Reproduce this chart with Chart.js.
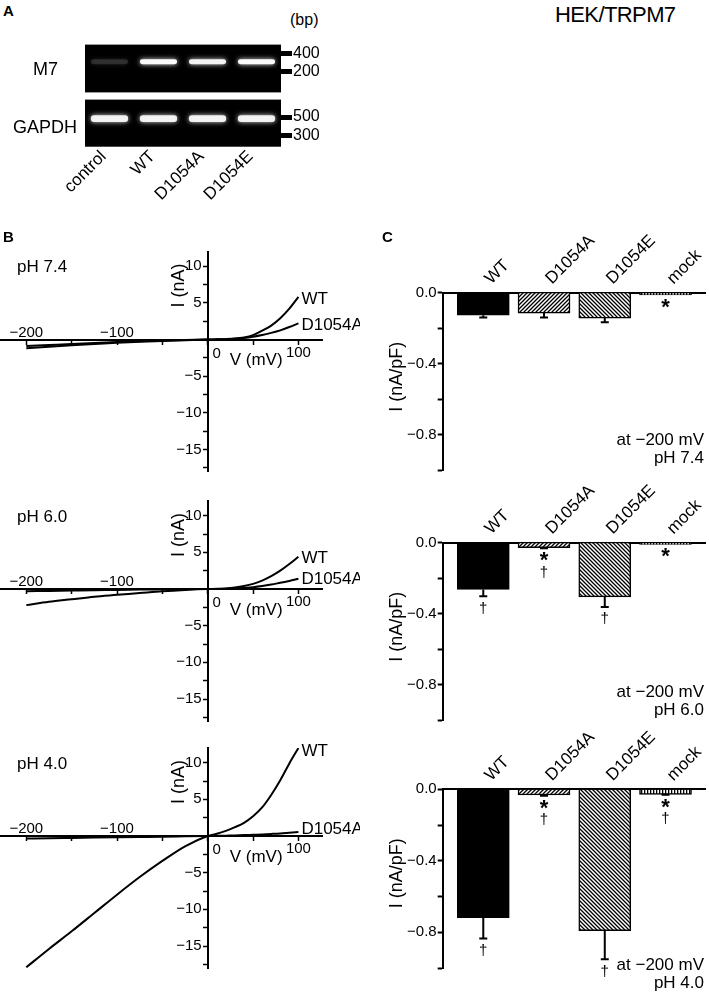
<!DOCTYPE html>
<html><head><meta charset="utf-8">
<script src="https://cdn.jsdelivr.net/npm/chart.js@4.4.1/dist/chart.umd.min.js"></script>
<style>
html,body{margin:0;padding:0;background:#fff;}
#fig{position:relative;width:709px;height:993px;overflow:hidden;background:#fff;font-family:"Liberation Sans",Arial,Helvetica,sans-serif;color:#000;}
canvas{position:absolute;}
.t{position:absolute;white-space:nowrap;}
</style></head><body><div id="fig">
<canvas id="gelM7" width="295" height="69" style="left:40px;top:34px"></canvas>
<canvas id="gelGAPDH" width="295" height="118" style="left:40px;top:89px"></canvas>
<canvas id="iv74" width="360" height="260" style="left:0px;top:225px"></canvas>
<canvas id="iv60" width="360" height="260" style="left:0px;top:475px"></canvas>
<canvas id="iv40" width="360" height="271" style="left:0px;top:722px"></canvas>
<canvas id="bar74" width="329" height="260" style="left:380px;top:220px"></canvas>
<canvas id="bar60" width="329" height="260" style="left:380px;top:470px"></canvas>
<canvas id="bar40" width="329" height="276" style="left:380px;top:717px"></canvas>
</div>
<script>
const FF = '"Liberation Sans", Arial, Helvetica, sans-serif';
Chart.defaults.font.family = FF;
Chart.defaults.color = '#000';
Chart.defaults.animation = false;

// ---------------- data ----------------
// Panel A: RT-PCR gel
const lanes = ['control', 'WT', 'D1054A', 'D1054E'];
const m7BandBp = [290, 290, 290, 290];
const m7BandIntensity = [0.13, 1, 0.95, 1];
const gapdhBandBp = [480, 480, 480, 480];
const gapdhBandIntensity = [0.93, 0.93, 0.93, 0.93];
const m7LadderBp = [400, 200];
const gapdhLadderBp = [500, 300];

// Panel B: I-V curves (V in mV, I in nA)
const voltages = [-200, -175, -150, -125, -100, -75, -50, -25, 0, 10, 20, 30, 40, 50, 60, 70, 80, 90, 100];
const wtPH74    = [-1.2, -1.0, -0.8, -0.62, -0.45, -0.32, -0.2, -0.09, 0, 0.02, 0.05, 0.12, 0.28, 0.6, 1.2, 1.9, 2.9, 4.2, 5.8];
const mutPH74   = [-0.9, -0.75, -0.6, -0.47, -0.35, -0.25, -0.15, -0.07, 0, 0.02, 0.05, 0.1, 0.2, 0.37, 0.6, 0.9, 1.25, 1.7, 2.2];
const wtPH60    = [-2.2, -1.75, -1.4, -1.05, -0.8, -0.55, -0.3, -0.12, 0, 0.02, 0.08, 0.2, 0.4, 0.7, 1.15, 1.75, 2.5, 3.4, 4.4];
const mutPH60   = [-0.3, -0.26, -0.22, -0.18, -0.12, -0.08, -0.05, -0.02, 0, 0.01, 0.04, 0.09, 0.16, 0.25, 0.4, 0.6, 0.85, 1.1, 1.4];
const wtPH40    = [-17.9, -15.4, -13.0, -10.5, -8.0, -5.6, -3.4, -1.4, 0, 0.3, 0.7, 1.2, 1.8, 2.7, 3.9, 5.6, 7.6, 9.9, 12.0];
const mutPH40   = [-0.35, -0.3, -0.26, -0.22, -0.18, -0.14, -0.1, -0.05, 0, 0.02, 0.05, 0.08, 0.12, 0.17, 0.22, 0.28, 0.35, 0.45, 0.55];
const ivXTickLabels = [-200, -100, 0, 100];
const ivXTicks = [-200, -150, -100, -50, 0, 50, 100];
const ivYTickLabels = [10, 5, -5, -10, -15];
const ivYTicks = [10, 7.5, 5, 2.5, -2.5, -5, -7.5, -10, -12.5, -15, -17.5];

// Panel C: current density at -200 mV (nA/pF)
const categories = ['WT', 'D1054A', 'D1054E', 'mock'];
const meanPH74 = [-0.127, -0.115, -0.143, -0.013];
const semPH74  = [0.013, 0.025, 0.024, 0];
const sigPH74  = ['', '', '', '*'];
const meanPH60 = [-0.264, -0.028, -0.306, -0.010];
const semPH60  = [0.038, 0.004, 0.056, 0];
const sigPH60  = ['\u2020', '*\u2020', '\u2020', '*'];
const meanPH40 = [-0.718, -0.032, -0.791, -0.028];
const semPH40  = [0.116, 0.004, 0.160, 0.003];
const sigPH40  = ['\u2020', '*\u2020', '\u2020', '*\u2020'];
const barYTickLabels = [0, -0.4, -0.8];
const barYTicks = [0, -0.2, -0.4, -0.6, -0.8, -1.0];

// ---------------- helpers ----------------
const fmt = v => (v < 0 ? '\u2212' : '') + Math.abs(v);
function addText(str, x, baseline, size, opts = {}) {
  const d = document.createElement('div');
  d.className = 't';
  d.textContent = str;
  d.style.fontSize = size + 'px';
  d.style.lineHeight = size + 'px';
  d.style.left = x + 'px';
  d.style.top = (baseline - 0.8465 * size) + 'px';
  if (opts.bold) d.style.fontWeight = 'bold';
  if (opts.spacing) d.style.letterSpacing = opts.spacing + 'px';
  document.getElementById('fig').appendChild(d);
}

// ---------------- Panel A ----------------
const gelPlugin = {
  id: 'gel',
  beforeDatasetsDraw(chart) {
    const {ctx, chartArea: a} = chart;
    ctx.save(); ctx.fillStyle = '#000'; ctx.fillRect(a.left, a.top, a.width, a.height); ctx.restore();
  },
  beforeDatasetDraw(chart) { chart.ctx.save(); chart.ctx.shadowColor = 'rgba(255,255,255,0.9)'; chart.ctx.shadowBlur = 5; },
  afterDatasetDraw(chart) { chart.ctx.restore(); }
};
function gelChart(id, bandBp, intensity, ladder, yMin, yMax, showLanes, pad, xH) {
  return new Chart(document.getElementById(id), {
    type: 'bar',
    data: { labels: lanes, datasets: [{
      data: bandBp.map(b => [b / 1.1, b * 1.1]),
      backgroundColor: intensity.map(a => 'rgba(250,250,250,' + a + ')'),
      borderWidth: 0, borderRadius: 3, borderSkipped: false,
      barPercentage: 0.76, categoryPercentage: 1
    }]},
    options: {
      responsive: false, devicePixelRatio: 1,
      layout: { padding: pad },
      plugins: { legend: { display: false }, tooltip: { enabled: false } },
      scales: {
        x: {
          display: showLanes, position: 'bottom',
          grid: { display: false, drawTicks: false }, border: { display: false },
          ticks: { minRotation: 45, maxRotation: 45, autoSkip: false, padding: 0, labelOffset: -6, font: { size: 17 }, color: '#000' },
          afterFit(s) { s.height = xH; }
        },
        y: {
          type: 'logarithmic', position: 'right', min: yMin, max: yMax,
          grid: { drawOnChartArea: false, drawTicks: true, tickLength: 11, tickWidth: 5, tickColor: '#000' },
          border: { display: false },
          afterBuildTicks(s) { s.ticks = ladder.map(v => ({ value: v })); },
          ticks: { callback: v => String(v), font: { size: 16 }, color: '#000', padding: 1 },
          afterFit(s) { s.width = 54; }
        }
      }
    },
    plugins: [gelPlugin]
  });
}
gelChart('gelM7', m7BandBp, m7BandIntensity, m7LadderBp, 88.6, 560, false, { left: 45, top: 10, bottom: 10, right: 0 }, 0);
gelChart('gelGAPDH', gapdhBandBp, gapdhBandIntensity, gapdhLadderBp, 216.8, 819, true, { left: 45, top: 10, bottom: 0, right: 0 }, 60.3);

// ---------------- Panel B ----------------
function ivChart(id, wt, mut, ph, padTop, padBottom, labelDy) {
  const mk = arr => voltages.map((v, i) => ({ x: v, y: arr[i] }));
  const textPlugin = {
    id: 'ivText',
    afterDraw(chart) {
      const {ctx} = chart, x = chart.scales.x, y = chart.scales.y;
      const x0 = x.getPixelForValue(0), y0 = y.getPixelForValue(0);
      ctx.save(); ctx.fillStyle = '#000'; ctx.textBaseline = 'middle';
      ctx.font = '15px ' + FF; ctx.textAlign = 'center';
      ivXTickLabels.forEach(v => {
        const px = x.getPixelForValue(v);
        if (v < 0) ctx.fillText(fmt(v), px, y0 - 7);
        else if (v === 0) ctx.fillText('0', px + 9, y0 + 14);
        else ctx.fillText(fmt(v), px, y0 + 13);
      });
      ctx.textAlign = 'right';
      ivYTickLabels.forEach(v => ctx.fillText(fmt(v), x0 - 6, y.getPixelForValue(v)));
      ctx.font = '17px ' + FF; ctx.textAlign = 'left';
      ctx.fillText('V (mV)', x0 + 22, y0 + 21);
      ctx.fillText(ph, 17, y0 - 72);
      chart.data.datasets.forEach((ds, i) => {
        const p = ds.data[ds.data.length - 1];
        ctx.fillText(ds.label, x.getPixelForValue(p.x) + 3, y.getPixelForValue(p.y) + labelDy[i]);
      });
      ctx.font = '18px ' + FF;
      ctx.translate(x0 - 29, y0 - 54); ctx.rotate(-Math.PI / 2); ctx.textAlign = 'center';
      ctx.fillText('I (nA)', 0, 0);
      ctx.restore();
    }
  };
  return new Chart(document.getElementById(id), {
    type: 'line',
    data: { datasets: [
      { label: 'WT', data: mk(wt), borderColor: '#000', borderWidth: 2, pointRadius: 0, cubicInterpolationMode: 'monotone' },
      { label: 'D1054A', data: mk(mut), borderColor: '#000', borderWidth: 2, pointRadius: 0, cubicInterpolationMode: 'monotone' }
    ]},
    options: {
      responsive: false, devicePixelRatio: 1,
      layout: { padding: { left: 0, right: 38, top: padTop, bottom: padBottom } },
      plugins: { legend: { display: false }, tooltip: { enabled: false } },
      scales: {
        x: {
          type: 'linear', min: -229, max: 126, position: { y: 0 },
          border: { color: '#000', width: 2 },
          grid: { drawOnChartArea: false, drawTicks: true, tickLength: 4, tickWidth: 1.5, tickColor: '#000' },
          afterBuildTicks(s) { s.ticks = ivXTicks.map(v => ({ value: v })); },
          ticks: { display: false },
          afterFit(s) { s.height = 0; }
        },
        y: {
          type: 'linear', min: -18, max: 12, position: { x: 0 },
          border: { color: '#000', width: 2 },
          grid: { drawOnChartArea: false, drawTicks: true, tickLength: 4, tickWidth: 1.5, tickColor: '#000' },
          afterBuildTicks(s) { s.ticks = ivYTicks.map(v => ({ value: v })); },
          ticks: { display: false },
          afterFit(s) { s.width = 0; }
        }
      }
    },
    plugins: [textPlugin]
  });
}
ivChart('iv74', wtPH74, mutPH74, 'pH 7.4', 26.5, 13.5, [2, 2]);
ivChart('iv60', wtPH60, mutPH60, 'pH 6.0', 26, 14, [2, 1]);
ivChart('iv40', wtPH40, mutPH40, 'pH 4.0', 26, 25, [3, -3]);

// ---------------- Panel C ----------------
function hatch(dir) {
  const s = 4, c = document.createElement('canvas'); c.width = c.height = s;
  const g = c.getContext('2d'); g.fillStyle = '#fff'; g.fillRect(0, 0, s, s);
  g.strokeStyle = '#000'; g.lineWidth = 1.3; g.beginPath();
  if (dir === '/') {
    g.moveTo(-1, s + 1); g.lineTo(s + 1, -1); g.moveTo(-1, 1); g.lineTo(1, -1); g.moveTo(s - 1, s + 1); g.lineTo(s + 1, s - 1);
  } else {
    g.moveTo(-1, -1); g.lineTo(s + 1, s + 1); g.moveTo(-1, s - 1); g.lineTo(1, s + 1); g.moveTo(s - 1, -1); g.lineTo(s + 1, 1);
  }
  g.stroke(); return g.createPattern(c, 'repeat');
}
function vlines() {
  const c = document.createElement('canvas'); c.width = 3; c.height = 3;
  const g = c.getContext('2d'); g.fillStyle = '#fff'; g.fillRect(0, 0, 3, 3);
  g.fillStyle = '#000'; g.fillRect(0, 0, 1.3, 3); return g.createPattern(c, 'repeat');
}
function barChart(id, mean, sem, sig, ph, xH, padBottom, noteDy) {
  const fills = ['#000', hatch('/'), hatch('\\'), vlines()];
  const extras = {
    id: 'barExtras',
    afterDatasetsDraw(chart) {
      const {ctx} = chart, x = chart.scales.x, y = chart.scales.y;
      ctx.save(); ctx.strokeStyle = '#000'; ctx.fillStyle = '#000'; ctx.lineWidth = 2;
      mean.forEach((m, i) => {
        const px = x.getPixelForValue(i), yb = y.getPixelForValue(m), ye = y.getPixelForValue(m - sem[i]);
        if (sem[i] > 0) {
          ctx.beginPath(); ctx.moveTo(px, yb); ctx.lineTo(px, ye); ctx.moveTo(px - 4, ye); ctx.lineTo(px + 4, ye); ctx.stroke();
        }
        let cy = null;
        for (const ch of sig[i]) {
          if (ch === '*') { ctx.font = 'bold 22px ' + FF; cy = (cy === null) ? ye + 8.5 : cy + 15; }
          else { ctx.font = '15px ' + FF; cy = (cy === null) ? ye + 11.5 : cy + 15; }
          const mt = ctx.measureText(ch);
          ctx.textAlign = 'center'; ctx.textBaseline = 'alphabetic';
          ctx.fillText(ch, px, cy + (mt.actualBoundingBoxAscent - mt.actualBoundingBoxDescent) / 2);
        }
      });
      const y0 = y.getPixelForValue(0), r = chart.chartArea.right - 1;
      ctx.font = '17px ' + FF; ctx.textAlign = 'right'; ctx.textBaseline = 'middle';
      ctx.fillText('at \u2212200 mV', r, y0 + noteDy[0]);
      ctx.fillText(ph, r, y0 + noteDy[1]);
      ctx.font = '18px ' + FF;
      ctx.translate(chart.chartArea.left - 46, y0 + 84); ctx.rotate(-Math.PI / 2); ctx.textAlign = 'center';
      ctx.fillText('I (nA/pF)', 0, 0);
      ctx.restore();
    }
  };
  return new Chart(document.getElementById(id), {
    type: 'bar',
    data: { datasets: [{
      data: mean.map((v, i) => ({ x: i, y: v })),
      backgroundColor: fills, borderColor: '#000', borderWidth: 1.5, barThickness: 52
    }]},
    options: {
      responsive: false, devicePixelRatio: 1,
      layout: { padding: { left: 0, right: 4, top: 0, bottom: padBottom } },
      plugins: { legend: { display: false }, tooltip: { enabled: false } },
      scales: {
        x: {
          type: 'linear', position: 'top', min: -0.668, max: 3.65, offset: false,
          grid: { display: false, drawTicks: false },
          border: { display: true, color: '#000', width: 2 },
          afterBuildTicks(s) { s.ticks = categories.map((c, i) => ({ value: i })); },
          ticks: { callback: v => categories[Math.round(v)], minRotation: 45, maxRotation: 45, autoSkip: false, padding: 4, labelOffset: 19, font: { size: 17 }, color: '#000' },
          afterFit(s) { s.height = xH; }
        },
        y: {
          type: 'linear', min: -1, max: 0, position: 'left',
          grid: { drawOnChartArea: false, drawTicks: true, tickLength: 5, tickWidth: 2, tickColor: '#000' },
          border: { color: '#000', width: 2 },
          afterBuildTicks(s) { s.ticks = barYTicks.map(v => ({ value: v })); },
          ticks: {
            callback: v => barYTickLabels.some(t => Math.abs(t - v) < 1e-6) ? (v < -1e-9 ? '\u2212' : '') + Math.abs(v).toFixed(1) : '',
            padding: 1, font: { size: 15 }, color: '#000'
          },
          afterFit(s) { s.width = 62.7; }
        }
      }
    },
    plugins: [extras]
  });
}
barChart('bar74', meanPH74, semPH74, sigPH74, 'pH 7.4', 72.7, 8.55, [148, 166]);
barChart('bar60', meanPH60, semPH60, sigPH60, 'pH 6.0', 72.7, 8.55, [150, 168]);
barChart('bar40', meanPH40, semPH40, sigPH40, 'pH 4.0', 72.3, 24.95, [176, 194]);

// ---------------- static text ----------------
addText('A', 3, 15.4, 15, { bold: true });
addText('B', 3, 242, 15, { bold: true });
addText('C', 382, 242, 15, { bold: true });
addText('HEK/TRPM7', 555, 22.5, 22, { spacing: -0.6 });
addText('(bp)', 290, 26, 16);
addText('M7', 33, 74.8, 18);
addText('GAPDH', 13, 133.1, 18);
</script></body></html>
